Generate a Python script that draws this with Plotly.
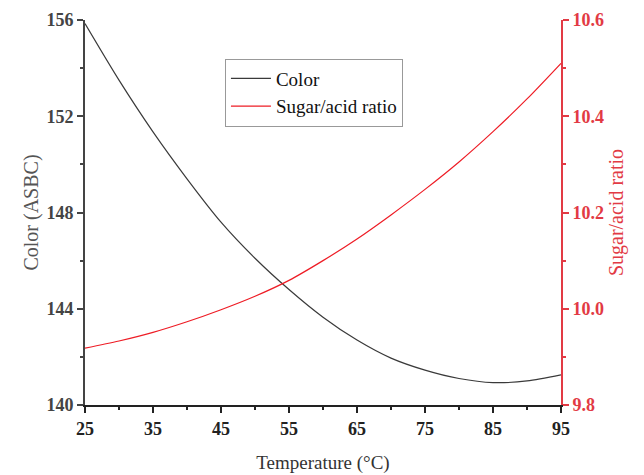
import plotly.graph_objects as go

temperature = [25, 30, 35, 40, 45, 50, 55, 60, 65, 70, 75, 80, 85, 90, 95]
color_asbc = [155.85, 153.5, 151.35, 149.4, 147.6, 146.1, 144.8, 143.65, 142.7,
              141.95, 141.45, 141.1, 140.93, 141.0, 141.25]
sugar_acid = [9.918, 9.933, 9.951, 9.973, 9.998, 10.026, 10.059, 10.100, 10.145,
              10.195, 10.248, 10.305, 10.368, 10.436, 10.51]

x_ticks = [25, 35, 45, 55, 65, 75, 85, 95]
left_ticks = [140, 144, 148, 152, 156]
right_ticks = [9.8, 10.0, 10.2, 10.4, 10.6]

RED = "#e23a44"
AX = "#444444"
FONT = "Liberation Serif"

fig = go.Figure()
fig.add_trace(go.Scatter(x=temperature, y=color_asbc, mode="lines", name="Color",
                         line=dict(color="#3a3a3a", width=1.2, shape="spline", smoothing=0.8)))
fig.add_trace(go.Scatter(x=temperature, y=sugar_acid, mode="lines", name="Sugar/acid ratio",
                         yaxis="y2", line=dict(color="#ee1c25", width=1.2, shape="spline", smoothing=0.8)))

fig.update_layout(
    width=644, height=475,
    margin=dict(l=85, r=83, t=20, b=70),
    plot_bgcolor="white", paper_bgcolor="white",
    font=dict(family=FONT, size=16, color="#222"),
    showlegend=True,
    legend=dict(x=0.294, y=0.9, xanchor="left", yanchor="top",
                bordercolor="#999999", borderwidth=1, bgcolor="white",
                font=dict(family=FONT, size=19, color="#111"),
                tracegroupgap=0, itemwidth=40),
    xaxis=dict(range=[25, 95], tickvals=x_ticks, ticks="outside", ticklen=6, tickwidth=2,
               tickcolor="#222", showline=True, linecolor="#222", linewidth=2,
               showgrid=False, zeroline=False, automargin=False,
               tickfont=dict(family=FONT, size=18, color="#222", weight="bold"),
               minor=dict(dtick=5, ticks="outside", ticklen=3, tickwidth=2, tickcolor="#222"),
               title=dict(text="Temperature (°C)", font=dict(family=FONT, size=19, color="#333"),
                          standoff=18)),
    yaxis=dict(range=[140, 156], tickvals=left_ticks, ticks="outside", ticklen=6, tickwidth=2,
               tickcolor=AX, showline=True, linecolor=AX, linewidth=2,
               showgrid=False, zeroline=False, automargin=False,
               tickfont=dict(family=FONT, size=18, color="#444", weight="bold"),
               minor=dict(dtick=2, ticks="outside", ticklen=3, tickwidth=2, tickcolor=AX),
               title=dict(text="Color (ASBC)", font=dict(family=FONT, size=20, color="#555"),
                          standoff=2)),
    yaxis2=dict(range=[9.8, 10.6], tickvals=right_ticks, tickformat=".1f", overlaying="y",
                side="right", ticks="outside", ticklen=6, tickwidth=2,
                tickcolor=RED, showline=True, linecolor=RED, linewidth=2,
                showgrid=False, zeroline=False, automargin=False,
                tickfont=dict(family=FONT, size=18, color=RED, weight="bold"),
                minor=dict(dtick=0.1, ticks="outside", ticklen=3, tickwidth=2, tickcolor=RED),
                title=dict(text="Sugar/acid ratio", font=dict(family=FONT, size=20, color=RED),
                           standoff=6)),
)

fig.write_html("out.html")
